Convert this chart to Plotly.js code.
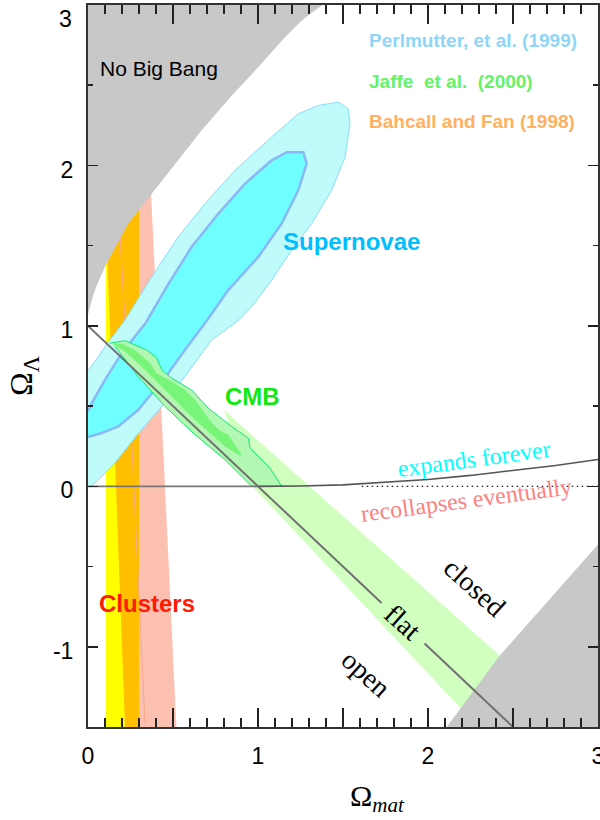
<!DOCTYPE html>
<html>
<head>
<meta charset="utf-8">
<script src="https://cdn.plot.ly/plotly-3.0.1.min.js"></script>
<style>html,body{margin:0;padding:0;background:#fff}#chart{width:600px;height:820px}</style>
</head>
<body>
<div id="chart"></div>
<script>
// ---- data (Omega_mat, Omega_Lambda) ----
// No Big Bang boundary (upper left)
const noBangX = [0, 0.01, 0.022, 0.05, 0.11, 0.237, 0.375, 0.571, 0.669, 0.85, 1.0, 1.16, 1.25, 1.30, 1.38, 0];
const noBangY = [1.07, 1.12, 1.16, 1.25, 1.39, 1.638, 1.824, 2.094, 2.22, 2.44, 2.61, 2.80, 2.895, 2.94, 3.0, 3.0];
// lower-right forbidden region
const lowGrayX = [2.11, 2.42, 3.0, 3.0];
const lowGrayY = [-1.5, -1.057, -0.363, -1.5];

// Clusters (Bahcall and Fan)
const yellowX = [0.106, 0.25, 0.25, 0.106];
const yellowY = [1.6, 1.6, -1.5, -1.5];
const pinkX = [0.25, 0.363, 0.52, 0.25];
const pinkY = [2.0, 2.0, -1.5, -1.5];
const orangeX = [0.1075, 0.30, 0.30, 0.218];
const orangeY = [1.6, 1.9, -1.5, -1.5];
const pinkLineX = [0.188, 0.218, 0.257, 0.335];
const pinkLineY = [1.576, 1.017, 0.29, -1.47];

// Supernovae (Perlmutter) outer and inner contours
const snOuterX = [0, 0.02, 0.05, 0.159, 0.296, 0.434, 0.57, 0.727, 0.88, 0.963, 1.08, 1.198, 1.316, 1.433, 1.512, 1.541, 1.531, 1.473, 1.355, 1.237, 1.08, 0.865, 0.688, 0.531, 0.375, 0.218, 0.1, 0.061, 0];
const snOuterY = [0, 0, 0.03, 0.147, 0.33, 0.498, 0.684, 0.912, 1.03, 1.12, 1.285, 1.472, 1.638, 1.845, 2.052, 2.26, 2.353, 2.394, 2.374, 2.322, 2.177, 1.97, 1.762, 1.555, 1.306, 1.037, 0.871, 0.808, 0.72];
const snInnerX = [0, 0.08, 0.178, 0.296, 0.472, 0.57, 0.708, 0.825, 1.002, 1.139, 1.237, 1.286, 1.267, 1.169, 1.08, 0.924, 0.767, 0.61, 0.472, 0.34, 0.198, 0.1, 0.022, 0];
const snInnerY = [0.307, 0.332, 0.373, 0.477, 0.705, 0.85, 1.046, 1.223, 1.43, 1.638, 1.845, 2.011, 2.083, 2.083, 2.032, 1.887, 1.70, 1.493, 1.26, 1.02, 0.83, 0.664, 0.519, 0.466];

// CMB (Jaffe) band and contours
const cmbBandX = [0.80, 2.55, 2.25, 0.95];
const cmbBandY = [0.475, -1.176, -1.448, 0.02];
const cmbOuterX = [0.129, 0.218, 0.276, 0.345, 0.404, 0.434, 0.492, 0.61, 0.708, 0.845, 0.943, 0.953, 0.982, 1.07, 1.139, 0.963, 0.806, 0.629, 0.453, 0.296, 0.159];
const cmbOuterY = [0.892, 0.908, 0.881, 0.85, 0.80, 0.726, 0.674, 0.60, 0.487, 0.373, 0.30, 0.24, 0.208, 0.114, 0, 0, 0.166, 0.322, 0.498, 0.684, 0.871];
const cmbInnerX = [0.149, 0.2, 0.276, 0.365, 0.404, 0.492, 0.57, 0.629, 0.708, 0.767, 0.826, 0.904, 0.894, 0.806, 0.629, 0.472, 0.335, 0.218];
const cmbInnerY = [0.887, 0.89, 0.85, 0.767, 0.705, 0.653, 0.60, 0.539, 0.425, 0.353, 0.322, 0.197, 0.191, 0.249, 0.415, 0.581, 0.726, 0.84];

// lines
const zeroX = [0, 1];
const zeroY = [0, 0];
const expandX = [1, 1.25, 1.5, 1.75, 2, 2.25, 2.5, 2.75, 3];
const expandY = [0, 0.002, 0.009, 0.025, 0.043, 0.068, 0.097, 0.13, 0.167];
const dottedX = [1.61, 3];
const dottedY = [0, 0];
const flat1X = [0, 1.727];
const flat1Y = [1, -0.727];
const flat2X = [1.98, 2.5];
const flat2Y = [-0.98, -1.5];

// ticks
const xTickVals = [0, 0.5, 1, 1.5, 2, 2.5, 3];
const xTickText = ['0', '', '1', '', '2', '', '3'];
const yTickVals = [-1, 0, 1, 2];
const yTickText = ['-1', '0', '1', '2'];

function poly(x, y, fill, lineColor, lineWidth) {
  return {x: x, y: y, type: 'scatter', mode: 'lines', fill: 'toself', fillcolor: fill,
    line: {color: lineColor || fill, width: lineWidth === undefined ? 0 : lineWidth}, hoverinfo: 'skip'};
}
function line(x, y, color, width, dash) {
  return {x: x, y: y, type: 'scatter', mode: 'lines', line: {color: color, width: width, dash: dash || 'solid'}, hoverinfo: 'skip'};
}

const traces = [
  poly(yellowX, yellowY, '#ffff00'),
  poly(pinkX, pinkY, '#fcc0b0'),
  poly(orangeX, orangeY, '#ffbf00'),
  line(pinkLineX, pinkLineY, '#f5a88a', 1),
  poly(noBangX, noBangY, '#c8c8c8'),
  poly(cmbBandX, cmbBandY, '#d0ffc0'),
  poly(lowGrayX, lowGrayY, '#c8c8c8'),
  poly(snOuterX, snOuterY, '#c0fbfc', '#88dcf8', 1),
  poly(snInnerX, snInnerY, '#70ffff', '#88b8f8', 2.5),
  poly(cmbOuterX, cmbOuterY, '#b2f8b2', '#10e870', 1),
  poly(cmbInnerX, cmbInnerY, '#78f478'),
  line(zeroX, zeroY, '#777777', 1.6),
  line(expandX, expandY, '#555555', 1.6),
  line(dottedX, dottedY, '#222222', 1.3, '1.5px,3.5px'),
  line(flat1X, flat1Y, '#707070', 2),
  line(flat2X, flat2Y, '#707070', 2)
];

const sans = 'Liberation Sans, Arial, sans-serif';
const serif = 'Liberation Serif, Times New Roman, serif';
function ann(text, x, y, size, color, family, opts) {
  return Object.assign({text: text, x: x, y: y, xref: 'x', yref: 'y', showarrow: false,
    font: {family: family, size: size, color: color}, xanchor: 'center', yanchor: 'middle'}, opts || {});
}
function pann(text, x, y, size, color, family, opts) {
  return ann(text, x, y, size, color, family, Object.assign({xref: 'paper', yref: 'paper'}, opts || {}));
}

const annotations = [
  ann('No Big Bang', 0.418, 2.605, 21, '#000', sans),
  ann('<b>Perlmutter, et al. (1999)</b>', 1.641, 2.779, 19, '#8dd6f8', sans, {xanchor: 'left'}),
  ann('<b>Jaffe  et al.  (2000)</b>', 1.641, 2.524, 19, '#66f266', sans, {xanchor: 'left'}),
  ann('<b>Bahcall and Fan (1998)</b>', 1.641, 2.276, 19, '#ffb060', sans, {xanchor: 'left'}),
  ann('<b>Supernovae</b>', 1.135, 1.529, 24, '#00bfff', sans, {xanchor: 'left'}),
  ann('<b>CMB</b>', 0.794, 0.558, 24, '#11e811', sans, {xanchor: 'left'}),
  ann('<b>Clusters</b>', 0.053, -0.733, 24, '#ff1a00', sans, {xanchor: 'left'}),
  ann('expands forever', 2.271, 0.172, 24, '#00ffff', serif, {textangle: -7.6}),
  ann('recollapses eventually', 2.229, -0.083, 24, '#ff8080', serif, {textangle: -7.5}),
  ann('closed', 2.276, -0.630, 28, '#000', serif, {textangle: 42}),
  ann('flat', 1.853, -0.848, 28, '#000', serif, {textangle: 42}),
  ann('open', 1.635, -1.166, 28, '#000', serif, {textangle: 42}),
  pann('3', -0.0275, 0.9813, 23, '#000', sans, {xanchor: 'right'}),
  pann('Ω<sub>Λ</sub>', -0.1255, 0.4862, 32, '#000', serif, {textangle: -90}),
  pann('Ω<sub><i>mat</i></sub>', 0.5667, -0.099, 30, '#000', serif)
];

const axisCommon = {
  showgrid: false, zeroline: false, showline: true, linecolor: '#333', linewidth: 2,
  mirror: 'allticks', ticks: 'inside', tickcolor: '#222', tickwidth: 1.5,
  tickfont: {family: sans, size: 23, color: '#000'}, fixedrange: true,
  ticklabeloverflow: 'allow'
};

const layout = {
  width: 600, height: 820,
  margin: {l: 88, r: 2, t: 4.5, b: 92.5},
  paper_bgcolor: '#fff', plot_bgcolor: '#fff',
  showlegend: false, hovermode: false,
  xaxis: Object.assign({}, axisCommon, {
    range: [0, 3], tickmode: 'array', tickvals: xTickVals, ticktext: xTickText,
    ticklen: 19, ticklabelstandoff: 7,
    minor: {dtick: 0.1, ticklen: 9, ticks: 'inside', tickcolor: '#222', tickwidth: 1.5}
  }),
  yaxis: Object.assign({}, axisCommon, {
    range: [-1.5, 3], tickmode: 'array', tickvals: yTickVals, ticktext: yTickText,
    ticklen: 10, ticklabelstandoff: 8, ticklabelshift: 4,
    minor: {dtick: 0.5, ticklen: 5, ticks: 'inside', tickcolor: '#222', tickwidth: 1.5}
  }),
  annotations: annotations
};

Plotly.newPlot('chart', traces, layout, {staticPlot: true, displayModeBar: false});
</script>
</body>
</html>
